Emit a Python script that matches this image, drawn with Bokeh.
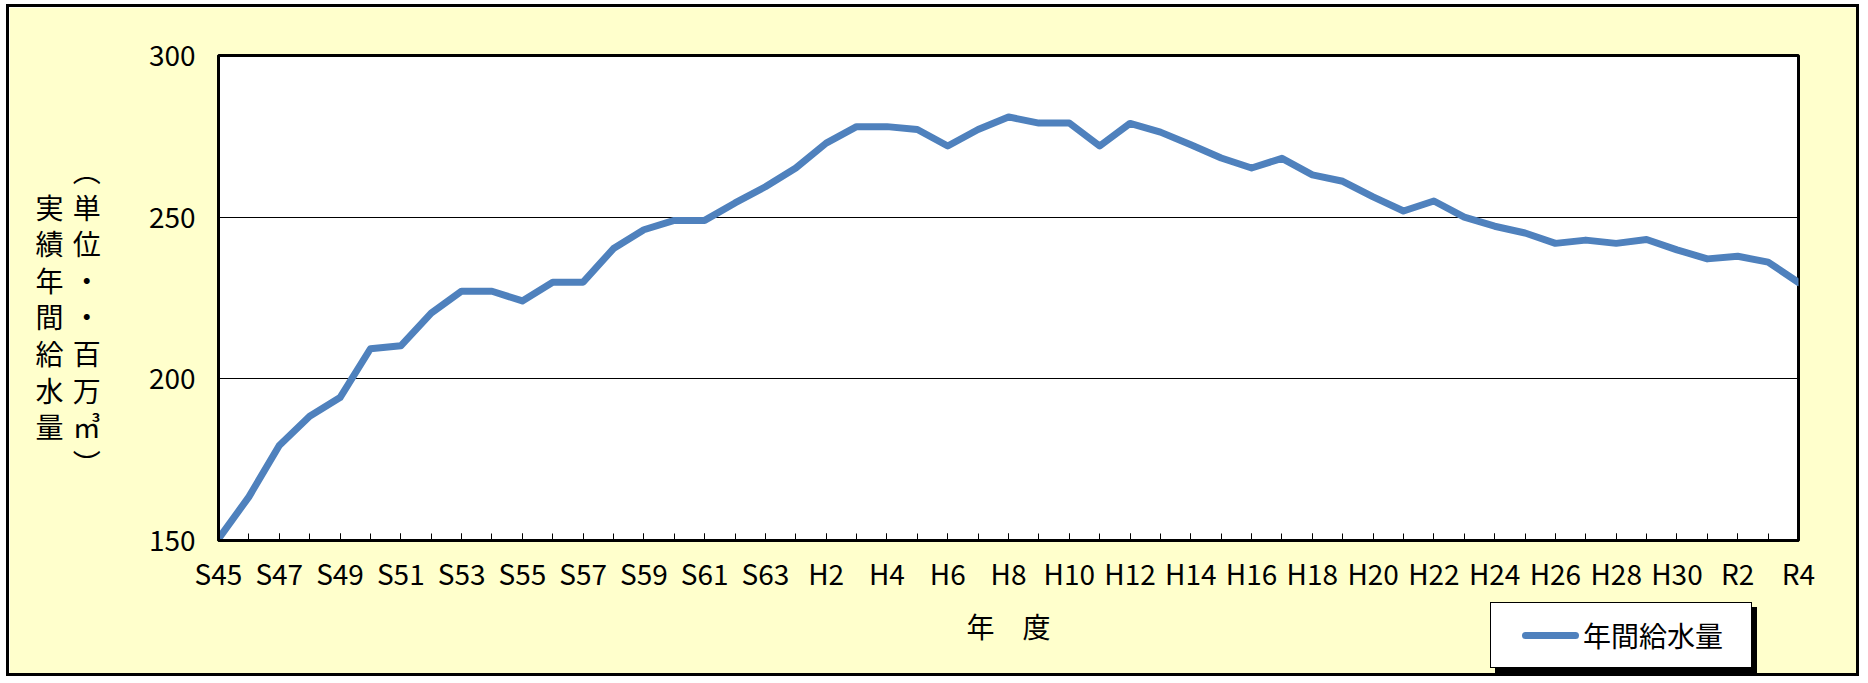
from bokeh.plotting import figure
from bokeh.models import FixedTicker, Range1d, Div
from bokeh.embed import file_html
from bokeh.resources import INLINE

periods = ["S45", "S46", "S47", "S48", "S49", "S50", "S51", "S52", "S53", "S54",
           "S55", "S56", "S57", "S58", "S59", "S60", "S61", "S62", "S63",
           "H1", "H2", "H3", "H4", "H5", "H6", "H7", "H8", "H9", "H10",
           "H11", "H12", "H13", "H14", "H15", "H16", "H17", "H18", "H19", "H20",
           "H21", "H22", "H23", "H24", "H25", "H26", "H27", "H28", "H29", "H30",
           "R1", "R2", "R3", "R4"]
supply = [150.5, 163.5, 179.4, 188.4, 194.2, 209.3, 210.2, 220.3, 227.1, 227.1,
          224.1, 229.9, 229.9, 240.3, 246.1, 249.0, 249.0, 254.4, 259.4,
          265.2, 272.9, 278.0, 278.0, 277.1, 272.0, 277.1, 281.0, 279.1, 279.1,
          272.0, 279.0, 276.3, 272.4, 268.3, 265.2, 268.2, 263.1, 261.1, 256.3,
          251.9, 255.0, 250.0, 247.2, 245.1, 241.9, 242.9, 241.9, 243.1, 239.9,
          237.1, 237.9, 236.1, 229.8]
y_ticks = [150, 200, 250, 300]
y_title_chars = ["　", "実", "績", "年", "間", "給", "水", "量", "　"]
y_unit_chars = ["︵", "単", "位", "・", "・", "百", "万", "㎥", "︶"]
series_name = "年間給水量"
x_title = "年　度"

FONT = "Noto Sans CJK JP"
BG = "#FFFFCC"
LINE = "#4F81BD"

xs = list(range(len(periods)))

p = figure(width=1853, height=672, output_backend="svg", toolbar_location=None,
           x_range=Range1d(0, len(periods) - 1), y_range=Range1d(y_ticks[0], y_ticks[-1]),
           min_border_left=209, min_border_right=64, min_border_top=48, min_border_bottom=139,
           background_fill_color="white", border_fill_color=BG,
           outline_line_color="black", outline_line_width=3)
p.styles = {"border": "3px solid black", "margin": "4px 0px 0px 6px"}

r = p.line(xs, supply, line_color=LINE, line_width=7, line_join="round", line_cap="round")

# x axis
p.xaxis.ticker = FixedTicker(ticks=xs[::2], minor_ticks=xs)
p.xaxis.major_label_overrides = {i: periods[i] for i in xs[::2]}
p.xaxis.major_tick_in = 7
p.xaxis.major_tick_out = 0
p.xaxis.minor_tick_in = 7
p.xaxis.minor_tick_out = 0
p.xaxis.major_tick_line_color = "black"
p.xaxis.minor_tick_line_color = "black"
p.xaxis.axis_line_width = 3
p.xaxis.axis_line_color = "black"
p.xaxis.major_label_text_font = FONT
p.xaxis.major_label_text_font_size = "28px"
p.xaxis.major_label_text_color = "black"
p.xaxis.major_label_standoff = 12
p.xaxis.axis_label = x_title
p.xaxis.axis_label_text_font = FONT
p.xaxis.axis_label_text_font_size = "28px"
p.xaxis.axis_label_text_font_style = "normal"
p.xaxis.axis_label_text_color = "black"
p.xaxis.axis_label_standoff = 10

# y axis
p.yaxis.ticker = FixedTicker(ticks=y_ticks)
p.yaxis.major_tick_in = 0
p.yaxis.major_tick_out = 0
p.yaxis.minor_tick_in = 0
p.yaxis.minor_tick_out = 0
p.yaxis.axis_line_width = 3
p.yaxis.axis_line_color = "black"
p.yaxis.major_label_text_font = FONT
p.yaxis.major_label_text_font_size = "28px"
p.yaxis.major_label_text_color = "black"
p.yaxis.major_label_standoff = 23

# vertical two-column y-axis title, one row per character pair
rows = [a + "\u2004" + b for a, b in zip(y_title_chars, y_unit_chars)]
p.yaxis.axis_label = "\n".join(["　"] + rows)
p.yaxis.axis_label_orientation = "horizontal"
p.yaxis.axis_label_text_font = FONT
p.yaxis.axis_label_text_font_size = "28px"
p.yaxis.axis_label_text_font_style = "normal"
p.yaxis.axis_label_text_color = "black"
p.yaxis.axis_label_text_line_height = 0.915
p.yaxis.axis_label_standoff = 45

p.xgrid.visible = False
p.ygrid.ticker = FixedTicker(ticks=y_ticks)
p.ygrid.grid_line_color = "black"
p.ygrid.grid_line_width = 1

# legend box (drawn as a floating element over the figure's lower-right margin)
legend_html = (
    '<div style="position:relative;width:262px;height:66px;box-sizing:border-box;'
    'background:white;border:1px solid black;box-shadow:5px 5px 0 black;">'
    f'<div style="position:absolute;left:31px;top:29px;width:57px;height:7px;'
    f'border-radius:4px;background:{LINE};"></div>'
    f'<div style="position:absolute;left:92px;top:0px;height:64px;line-height:64px;'
    f'font-family:\'{FONT}\';font-size:28px;color:black;white-space:nowrap;">{series_name}</div>'
    '</div>'
)
legend_div = Div(text=legend_html, width=262, height=66,
                 styles={"position": "absolute", "left": "1481px", "top": "595px"})
p.elements = [legend_div]

open("out.html", "w").write(file_html(p, INLINE))
